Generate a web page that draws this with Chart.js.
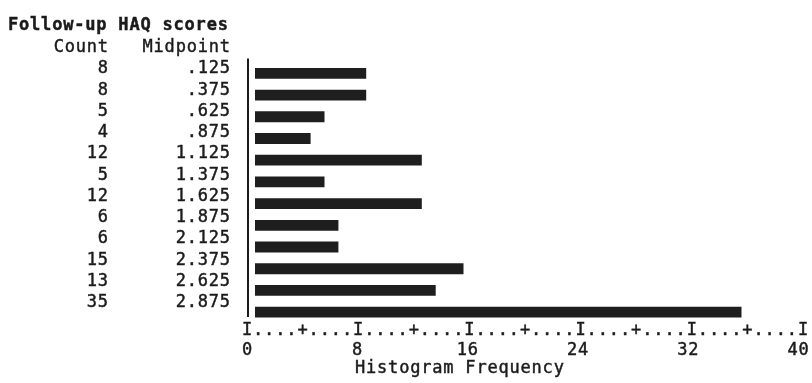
<!DOCTYPE html>
<html>
<head>
<meta charset="utf-8">
<script src="https://cdn.jsdelivr.net/npm/chart.js@4/dist/chart.umd.min.js"></script>
<style>
  html, body { margin: 0; padding: 0; background: #ffffff; }
  #c { display: block; }
</style>
</head>
<body>
<canvas id="c" width="812" height="383"></canvas>
<script>
// ---- data ----
const chartTitle = 'Follow-up HAQ scores';
const countHeader = 'Count';
const midpointHeader = 'Midpoint';
const axisTitle = 'Histogram Frequency';
const midpoints = ['.125', '.375', '.625', '.875', '1.125', '1.375', '1.625', '1.875', '2.125', '2.375', '2.625', '2.875'];
const counts = [8, 8, 5, 4, 12, 5, 12, 6, 6, 15, 13, 35];
const xTicks = [0, 8, 16, 24, 32, 40];

const INK = '#1b1b1b';
const MONO = '"DejaVu Sans Mono", "Liberation Mono", monospace';

function textAt(ctx, str, x, y, align, bold) {
  ctx.save();
  ctx.font = (bold ? 'bold ' : '') + '17px ' + MONO;
  try { ctx.letterSpacing = '0.8px'; } catch (e) {}
  ctx.fillStyle = INK;
  ctx.strokeStyle = INK;
  ctx.lineWidth = 0.45;
  ctx.textAlign = align;
  ctx.textBaseline = 'alphabetic';
  const xx = align === 'right' ? x + 0.8 : x;
  ctx.fillText(str, xx, y);
  ctx.strokeText(str, xx, y);
  ctx.restore();
}

const spssPlugin = {
  id: 'spss',
  beforeDraw(chart) {
    const ctx = chart.ctx;
    ctx.save();
    ctx.fillStyle = '#ffffff';
    ctx.fillRect(0, 0, chart.width, chart.height);
    ctx.restore();
  },
  afterDraw(chart) {
    const ctx = chart.ctx;
    const area = chart.chartArea;
    const yl = chart.scales.yl;
    const x2 = chart.scales.x2;

    // title and column headers
    textAt(ctx, chartTitle, 8, 30, 'left', true);
    textAt(ctx, countHeader, 108, 52, 'right', false);
    textAt(ctx, midpointHeader, 230, 52, 'right', false);

    // count / midpoint columns
    midpoints.forEach((m, i) => {
      const y = yl.getPixelForValue(i) + 6;
      textAt(ctx, String(counts[i]), 108, y, 'right', false);
      textAt(ctx, m, 230, y, 'right', false);
    });

    // vertical axis line
    ctx.save();
    ctx.strokeStyle = INK;
    ctx.lineWidth = 2;
    ctx.beginPath();
    ctx.moveTo(area.left + 1, area.top - 4);
    ctx.lineTo(area.left + 1, area.bottom - 6);
    ctx.stroke();
    ctx.restore();

    // character-style axis row  I....+....I
    const n = 50;
    const step = (area.right - area.left) / n;
    ctx.save();
    ctx.font = '17px ' + MONO;
    ctx.fillStyle = INK;
    ctx.strokeStyle = INK;
    ctx.lineWidth = 0.45;
    ctx.textAlign = 'center';
    ctx.textBaseline = 'alphabetic';
    for (let j = 0; j <= n; j++) {
      const ch = j % 10 === 0 ? 'I' : (j % 5 === 0 ? '+' : '.');
      ctx.fillText(ch, area.left + j * step, 335);
      ctx.strokeText(ch, area.left + j * step, 335);
    }
    ctx.restore();

    // tick labels from the tick scale
    xTicks.forEach(v => {
      textAt(ctx, String(v), x2.getPixelForValue(v) + 0.4, 355, 'center', false);
    });

    // axis title
    textAt(ctx, axisTitle, area.left + 108, 373, 'left', false);
  }
};

new Chart(document.getElementById('c'), {
  type: 'bar',
  data: {
    labels: midpoints,
    datasets: [{
      data: counts,
      xAxisID: 'x',
      yAxisID: 'y',
      backgroundColor: '#1e1e1e',
      borderWidth: 0,
      categoryPercentage: 1,
      barPercentage: 0.5
    }]
  },
  options: {
    indexAxis: 'y',
    responsive: false,
    animation: false,
    devicePixelRatio: 1,
    layout: { padding: { left: 247, right: 9, top: 62.5, bottom: 60 } },
    plugins: { legend: { display: false }, tooltip: { enabled: false }, title: { display: false } },
    scales: {
      x: { type: 'linear', display: false, bounds: 'data', offset: false, min: -0.576, max: 39.424 },
      y: { type: 'category', display: false, offset: true },
      yl: { type: 'linear', axis: 'y', position: 'left', display: false, bounds: 'data', offset: false, reverse: true, min: -0.2355, max: 12.035 },
      x2: { type: 'linear', axis: 'x', position: 'bottom', display: false, bounds: 'data', offset: false, min: 0, max: 40.35 }
    }
  },
  plugins: [spssPlugin]
});
</script>
</body>
</html>
